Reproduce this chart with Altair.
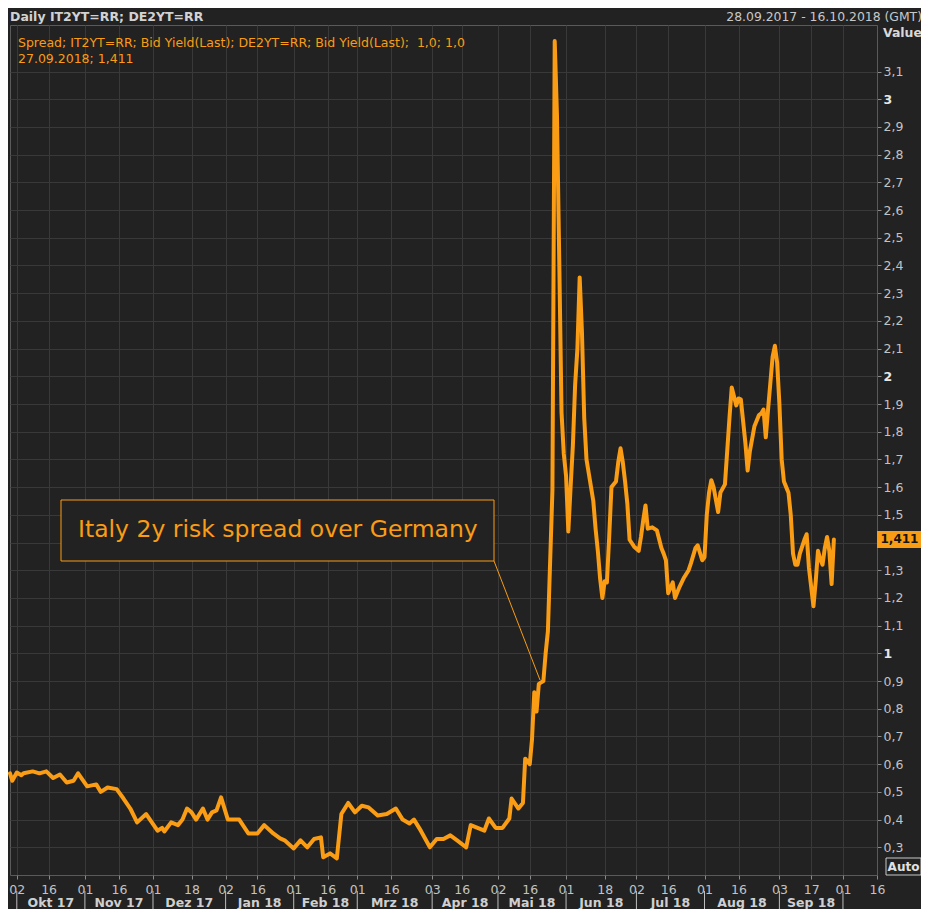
import altair as alt
import pandas as pd

# ---------------- data ----------------
dates = [
    "2017-09-29", "2017-09-30", "2017-10-02", "2017-10-04", "2017-10-05", "2017-10-09", "2017-10-12",
    "2017-10-15", "2017-10-18", "2017-10-21", "2017-10-24", "2017-10-27", "2017-10-29", "2017-11-02",
    "2017-11-06", "2017-11-08", "2017-11-11", "2017-11-15", "2017-11-18", "2017-11-21", "2017-11-24",
    "2017-11-28", "2017-12-03", "2017-12-05", "2017-12-06", "2017-12-09", "2017-12-12", "2017-12-14",
    "2017-12-16", "2017-12-18", "2017-12-20", "2017-12-23", "2017-12-25", "2017-12-27", "2017-12-29",
    "2017-12-31", "2018-01-03", "2018-01-08", "2018-01-12", "2018-01-16", "2018-01-19", "2018-01-23",
    "2018-01-26", "2018-01-28", "2018-02-01", "2018-02-04", "2018-02-07", "2018-02-10", "2018-02-13",
    "2018-02-14", "2018-02-17", "2018-02-20", "2018-02-22", "2018-02-25", "2018-02-28", "2018-03-03",
    "2018-03-06", "2018-03-10", "2018-03-14", "2018-03-18", "2018-03-21", "2018-03-24", "2018-03-26",
    "2018-03-29", "2018-04-02", "2018-04-05", "2018-04-08", "2018-04-11", "2018-04-14", "2018-04-18",
    "2018-04-20", "2018-04-23", "2018-04-26", "2018-04-28", "2018-05-01", "2018-05-04", "2018-05-07",
    "2018-05-08", "2018-05-11", "2018-05-13", "2018-05-14", "2018-05-16", "2018-05-17", "2018-05-18",
    "2018-05-19", "2018-05-20", "2018-05-22", "2018-05-23", "2018-05-24", "2018-05-26", "2018-05-27",
    "2018-05-28", "2018-05-29", "2018-05-30", "2018-05-31", "2018-06-01", "2018-06-02", "2018-06-03",
    "2018-06-04", "2018-06-05", "2018-06-06", "2018-06-07", "2018-06-08", "2018-06-09", "2018-06-10",
    "2018-06-11", "2018-06-12", "2018-06-13", "2018-06-14", "2018-06-15", "2018-06-16", "2018-06-17",
    "2018-06-18", "2018-06-19", "2018-06-20", "2018-06-21", "2018-06-22", "2018-06-23", "2018-06-24",
    "2018-06-25", "2018-06-26", "2018-06-27", "2018-06-28", "2018-06-29", "2018-07-01", "2018-07-03",
    "2018-07-04", "2018-07-05", "2018-07-06", "2018-07-07", "2018-07-09", "2018-07-11", "2018-07-13",
    "2018-07-14", "2018-07-15", "2018-07-16", "2018-07-18", "2018-07-19", "2018-07-21", "2018-07-23",
    "2018-07-25", "2018-07-26", "2018-07-28", "2018-07-29", "2018-07-31", "2018-08-01", "2018-08-02",
    "2018-08-03", "2018-08-04", "2018-08-05", "2018-08-07", "2018-08-08", "2018-08-10", "2018-08-12",
    "2018-08-13", "2018-08-15", "2018-08-16", "2018-08-17", "2018-08-19", "2018-08-20", "2018-08-21",
    "2018-08-23", "2018-08-25", "2018-08-26", "2018-08-27", "2018-08-28", "2018-08-29", "2018-08-31",
    "2018-09-01", "2018-09-02", "2018-09-03", "2018-09-04", "2018-09-05", "2018-09-06", "2018-09-07",
    "2018-09-08", "2018-09-09", "2018-09-10", "2018-09-11", "2018-09-12", "2018-09-14", "2018-09-15",
    "2018-09-16", "2018-09-18", "2018-09-19", "2018-09-20", "2018-09-21", "2018-09-22", "2018-09-23",
    "2018-09-24", "2018-09-25", "2018-09-26", "2018-09-27",
]
spread = [
    0.567, 0.54, 0.57, 0.56, 0.567, 0.574, 0.567,
    0.574, 0.55, 0.563, 0.534, 0.54, 0.567, 0.52,
    0.527, 0.50, 0.516, 0.51, 0.476, 0.44, 0.39,
    0.42, 0.36, 0.37, 0.357, 0.39, 0.38, 0.40,
    0.44, 0.426, 0.40, 0.44, 0.40, 0.426, 0.433,
    0.48, 0.40, 0.40, 0.35, 0.35, 0.38, 0.35,
    0.332, 0.325, 0.296, 0.325, 0.30, 0.33, 0.336,
    0.264, 0.278, 0.26, 0.42, 0.46, 0.426, 0.45,
    0.444, 0.415, 0.42, 0.44, 0.40, 0.386, 0.40,
    0.36, 0.30, 0.33, 0.33, 0.343, 0.325, 0.30,
    0.38, 0.37, 0.36, 0.404, 0.37, 0.37, 0.404,
    0.476, 0.44, 0.46, 0.62, 0.60, 0.69, 0.86,
    0.79, 0.89, 0.90, 1.00, 1.08, 1.59, 3.21,
    2.94, 2.42, 1.87, 1.72, 1.64, 1.44, 1.60,
    1.75, 1.97, 2.10, 2.357, 2.16, 1.85, 1.70,
    1.65, 1.60, 1.55, 1.45, 1.37, 1.27, 1.20,
    1.26, 1.256, 1.42, 1.60, 1.61, 1.62, 1.69,
    1.74, 1.69, 1.62, 1.54, 1.41, 1.385, 1.37,
    1.42, 1.48, 1.534, 1.45, 1.455, 1.444, 1.38,
    1.36, 1.336, 1.217, 1.256, 1.20, 1.24, 1.274,
    1.30, 1.325, 1.38, 1.39, 1.336, 1.347, 1.50,
    1.58, 1.625, 1.60, 1.51, 1.58, 1.61, 1.85,
    1.96, 1.895, 1.92, 1.917, 1.76, 1.66, 1.73,
    1.82, 1.86, 1.866, 1.88, 1.78, 1.88, 2.07,
    2.11, 2.05, 1.90, 1.70, 1.62, 1.60, 1.58,
    1.50, 1.36, 1.32, 1.32, 1.36, 1.41, 1.43,
    1.31, 1.17, 1.26, 1.37, 1.34, 1.32, 1.38,
    1.42, 1.37, 1.25, 1.411,
]

y_ticks = [0.3, 0.4, 0.5, 0.6, 0.7, 0.8, 0.9, 1.0, 1.1, 1.2, 1.3, 1.4, 1.5, 1.6, 1.7,
           1.8, 1.9, 2.0, 2.1, 2.2, 2.3, 2.4, 2.5, 2.6, 2.7, 2.8, 2.9, 3.0, 3.1]
x_tick_dates = ["2017-10-02", "2017-10-16", "2017-11-01", "2017-11-16", "2017-12-01", "2017-12-18",
                "2018-01-02", "2018-01-16", "2018-02-01", "2018-02-16", "2018-03-01", "2018-03-16",
                "2018-04-03", "2018-04-16", "2018-05-02", "2018-05-16", "2018-06-01", "2018-06-18",
                "2018-07-02", "2018-07-16", "2018-08-01", "2018-08-16", "2018-09-03", "2018-09-17",
                "2018-10-01", "2018-10-16"]
month_starts = ["2017-10-02", "2017-11-01", "2017-12-01", "2018-01-02", "2018-02-01", "2018-03-01",
                "2018-04-03", "2018-05-02", "2018-06-01", "2018-07-02", "2018-08-01", "2018-09-03",
                "2018-10-01"]
month_names = ["Okt 17", "Nov 17", "Dez 17", "Jan 18", "Feb 18", "Mrz 18", "Apr 18", "Mai 18",
               "Jun 18", "Jul 18", "Aug 18", "Sep 18"]
x_range = ["2017-09-29", "2018-10-16"]

header_left = "Daily IT2YT=RR; DE2YT=RR"
header_right = "28.09.2017 - 16.10.2018 (GMT)"
legend_line1 = "Spread; IT2YT=RR; Bid Yield(Last); DE2YT=RR; Bid Yield(Last);\u00a0\u00a01,0; 1,0"
annotation = "Italy 2y risk spread over Germany"

# ---------------- styling ----------------
BG = "#222222"
GRID = "#393939"
TXT = "#c2c2c2"
ORANGE = "#fa9c14"
FONT = "DejaVu Sans"
W, H = 867, 850


def dt(s):
    y, m, d = (int(p) for p in s.split("-"))
    return alt.DateTime(year=y, month=m, date=d, utc=True)


df = pd.DataFrame({"date": dates, "value": spread})

starts = pd.to_datetime(month_starts)
mids = [(starts[i] + (starts[i + 1] - starts[i]) / 2).strftime("%Y-%m-%dT%H:%M:%SZ")
        for i in range(len(month_names))]
months_df = pd.DataFrame({"date": mids, "label": month_names})
seps_df = pd.DataFrame({"date": month_starts})

last_date = pd.to_datetime(dates[-1]).strftime("%d.%m.%Y")
last_label = f"{spread[-1]:.3f}".replace(".", ",")
last_df = pd.DataFrame({"date": [dates[-1]], "value": [spread[-1]], "label": [last_label]})
one = pd.DataFrame({"k": [0]})

is_int = "abs(datum.value - round(datum.value)) < 0.001"
# the label under the last-value badge is hidden, as in the reference
under_badge = f"abs(datum.value - {round(spread[-1], 1)}) < 0.001"

xscale = alt.Scale(type="utc", domain=[dt(x_range[0]), dt(x_range[1])])
yscale = alt.Scale(domain=[0.2, 3.268], nice=False, zero=False)

x_axis = alt.Axis(
    values=[dt(s) for s in x_tick_dates],
    labelExpr="utcFormat(datum.value, '%d')",
    title=None, grid=True, gridColor=GRID, gridWidth=1, domain=False,
    tickColor="#8a8a8a", tickSize=4, labelColor=TXT, labelFontSize=12.5,
    labelFont=FONT, labelPadding=4, labelOverlap=False, labelFlush=False,
)
y_axis = alt.Axis(
    orient="right", values=y_ticks, title=None,
    labelExpr=(f"{under_badge} ? '' : ({is_int} ? format(datum.value, '.0f') : "
               "replace(format(datum.value, '.1f'), '.', ','))"),
    labelFontWeight={"condition": {"test": is_int, "value": "bold"}, "value": "normal"},
    labelColor={"condition": {"test": is_int, "value": "#e6e6e6"}, "value": TXT},
    grid=True, gridColor=GRID, gridWidth=1, domain=True, domainColor="#5a5a5a",
    tickColor="#8a8a8a", tickSize=4, labelPadding=2, labelFontSize=12.5, labelFont=FONT,
    labelOverlap=False,
)

X = alt.X("date:T", scale=xscale, axis=x_axis)
Y = alt.Y("value:Q", scale=yscale, axis=y_axis)

line = alt.Chart(df).mark_line(
    color=ORANGE, strokeWidth=4, strokeJoin="round", strokeCap="round"
).encode(x=X, y=Y)

# annotation box, text and connector
box = alt.Chart(one).mark_rect(fill=BG, stroke=ORANGE, strokeWidth=1).encode(
    x=alt.value(51), x2=alt.value(484), y=alt.value(475), y2=alt.value(536))
box_text = alt.Chart(one).mark_text(
    align="left", baseline="middle", font=FONT, fontSize=23.5, color=ORANGE, text=annotation
).encode(x=alt.value(68), y=alt.value(505))
connector = alt.Chart(one).mark_rule(color=ORANGE, strokeWidth=1).encode(
    x=alt.value(484), y=alt.value(536), x2=alt.value(530), y2=alt.value(655))

# header
head_l = alt.Chart(one).mark_text(
    align="left", baseline="middle", font=FONT, fontSize=12.5, fontWeight="bold",
    color="#d2d2d2", text=header_left).encode(x=alt.value(0), y=alt.value(-8))
head_r = alt.Chart(one).mark_text(
    align="right", baseline="middle", font=FONT, fontSize=12.4, color="#c8c8c8",
    text=header_right).encode(x=alt.value(912), y=alt.value(-8))
value_t = alt.Chart(one).mark_text(
    align="right", baseline="middle", font=FONT, fontSize=12.5, fontWeight="bold",
    color="#d8d8d8", text="Value").encode(x=alt.value(912), y=alt.value(8))

# in-plot legend
leg1 = alt.Chart(one).mark_text(
    align="left", baseline="middle", font=FONT, fontSize=12.5, color=ORANGE,
    text=legend_line1).encode(x=alt.value(8), y=alt.value(18))
leg2 = alt.Chart(one).mark_text(
    align="left", baseline="middle", font=FONT, fontSize=12.5, color=ORANGE,
    text=f"{last_date}; {last_label}").encode(x=alt.value(8), y=alt.value(34))

# month row
month_text = alt.Chart(months_df).mark_text(
    baseline="middle", font=FONT, fontSize=12.5, fontWeight="bold", color="#cfcfcf"
).encode(x=X, y=alt.value(878), text="label:N")
seps = alt.Chart(seps_df).mark_rule(color="#bdbdbd", strokeWidth=1).encode(
    x=X, y=alt.value(866), y2=alt.value(886))

# last value badge
badge = alt.Chart(last_df).mark_point(
    shape="M-1,-0.38L1,-0.38L1,0.38L-1,0.38Z", size=2025, filled=True, color=ORANGE, opacity=1
).encode(x=alt.value(889.5), y=Y)
badge_t = alt.Chart(last_df).mark_text(
    baseline="middle", font=FONT, fontSize=12, fontWeight="bold", color="#151515"
).encode(x=alt.value(889.5), y=Y, text="label:N")

# "Auto" box
auto_box = alt.Chart(one).mark_rect(fill=BG, stroke="#c8c8c8", strokeWidth=1).encode(
    x=alt.value(876), x2=alt.value(911), y=alt.value(833), y2=alt.value(850))
auto_t = alt.Chart(one).mark_text(
    baseline="middle", font=FONT, fontSize=12, fontWeight="bold", color="#e0e0e0", text="Auto"
).encode(x=alt.value(893.5), y=alt.value(842))

chart = alt.layer(
    line, connector, box, box_text, head_l, head_r, value_t, leg1, leg2,
    month_text, seps, badge, badge_t, auto_box, auto_t,
).properties(
    width=W, height=H,
    padding={"left": 2, "top": 17, "right": 44, "bottom": 34},
    autosize=alt.AutoSizeParams(type="none"),
    background=BG,
).configure_view(
    stroke="#5a5a5a", strokeWidth=1, fill=BG,
)

chart.save("out.html", embed_options={"renderer": "svg", "actions": False})
